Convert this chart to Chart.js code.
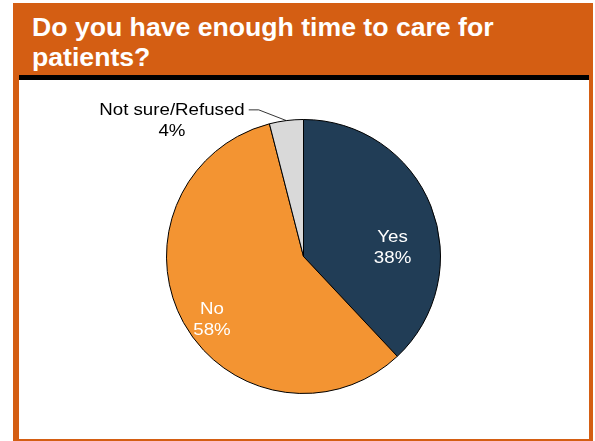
<!DOCTYPE html>
<html>
<head>
<meta charset="utf-8">
<script src="https://cdn.jsdelivr.net/npm/chart.js@4.4.1/dist/chart.umd.min.js"></script>
<style>
  body { margin: 0; width: 595px; height: 441px; background: #fff; position: relative; overflow: hidden; }
  .frame { position: absolute; left: 13px; top: 3px; width: 580px; height: 438px; background: #D45E13; }
  .title { position: absolute; left: 32px; top: 12px; color: #fff; font: bold 25px "Liberation Sans", Arial, sans-serif; line-height: 30px; white-space: nowrap; transform: scaleX(1.065); transform-origin: 0 0; }
  .bar { position: absolute; left: 19px; top: 75px; width: 570px; height: 5px; background: #000; }
  .panel { position: absolute; left: 19px; top: 80px; width: 570px; height: 359px; background: #fff; }
  #pie { position: absolute; left: 0; top: 0; }
</style>
</head>
<body>
<div class="frame"></div>
<div class="title">Do you have enough time to care for<br>patients?</div>
<div class="bar"></div>
<div class="panel"><canvas id="pie" width="570" height="359"></canvas></div>
<script>
// dados
const categorias = ["Yes", "No", "Not sure/Refused"];
const valores = [38, 58, 4];
const cores = ["#213D56", "#F39432", "#D9D9D9"];

// rótulos: posição em fração do raio, relativa ao centro
const rotulos = [
  { dx: 0.65, dy: -0.065, cor: "#fff" },
  { dx: -0.668, dy: 0.46, cor: "#fff" },
  { dx: -0.96, dy: -0.99, cor: "#000", linha: true }
];

const esticar = 1.1; // o texto original é um pouco mais largo

function escreve(ctx, txt, x, y) {
  ctx.save();
  ctx.translate(x, y);
  ctx.scale(esticar, 1);
  ctx.fillText(txt, 0, 0);
  ctx.restore();
}

const pluginRotulos = {
  id: "rotulos",
  afterDatasetsDraw(chart) {
    const ctx = chart.ctx;
    const meta = chart.getDatasetMeta(0);
    ctx.save();
    ctx.font = '17px "Liberation Sans", Arial, sans-serif';
    ctx.textAlign = "center";
    ctx.textBaseline = "middle";
    meta.data.forEach((arc, i) => {
      const r = arc.outerRadius;
      const cfg = rotulos[i];
      const x = arc.x + cfg.dx * r;
      const y = arc.y + cfg.dy * r;
      ctx.fillStyle = cfg.cor;
      escreve(ctx, categorias[i], x, y - 10.5);
      escreve(ctx, valores[i] + "%", x, y + 10.5);
      if (cfg.linha) {
        const meio = (arc.startAngle + arc.endAngle) / 2;
        const ex = arc.x + Math.cos(meio) * r;
        const ey = arc.y + Math.sin(meio) * r;
        const largura = ctx.measureText(categorias[i]).width * esticar;
        const sx = x + largura / 2 + 4;
        ctx.beginPath();
        ctx.moveTo(sx, y - 11);
        ctx.lineTo(sx + 10, y - 11);
        ctx.lineTo(ex, ey);
        ctx.strokeStyle = "#000";
        ctx.lineWidth = 0.8;
        ctx.stroke();
      }
    });
    ctx.restore();
  }
};

const ctx = document.getElementById("pie").getContext("2d");
const grafico = new Chart(ctx, {
  type: "pie",
  data: {
    labels: categorias,
    datasets: [{
      data: valores,
      backgroundColor: cores,
      borderColor: "#000",
      borderWidth: 1
    }]
  },
  options: {
    responsive: false,
    animation: false,
    devicePixelRatio: 1,
    layout: { padding: { left: 147, right: 148, top: 39, bottom: 45 } },
    plugins: {
      legend: { display: false },
      tooltip: { enabled: false }
    }
  },
  plugins: [pluginRotulos]
});
</script>
</body>
</html>
